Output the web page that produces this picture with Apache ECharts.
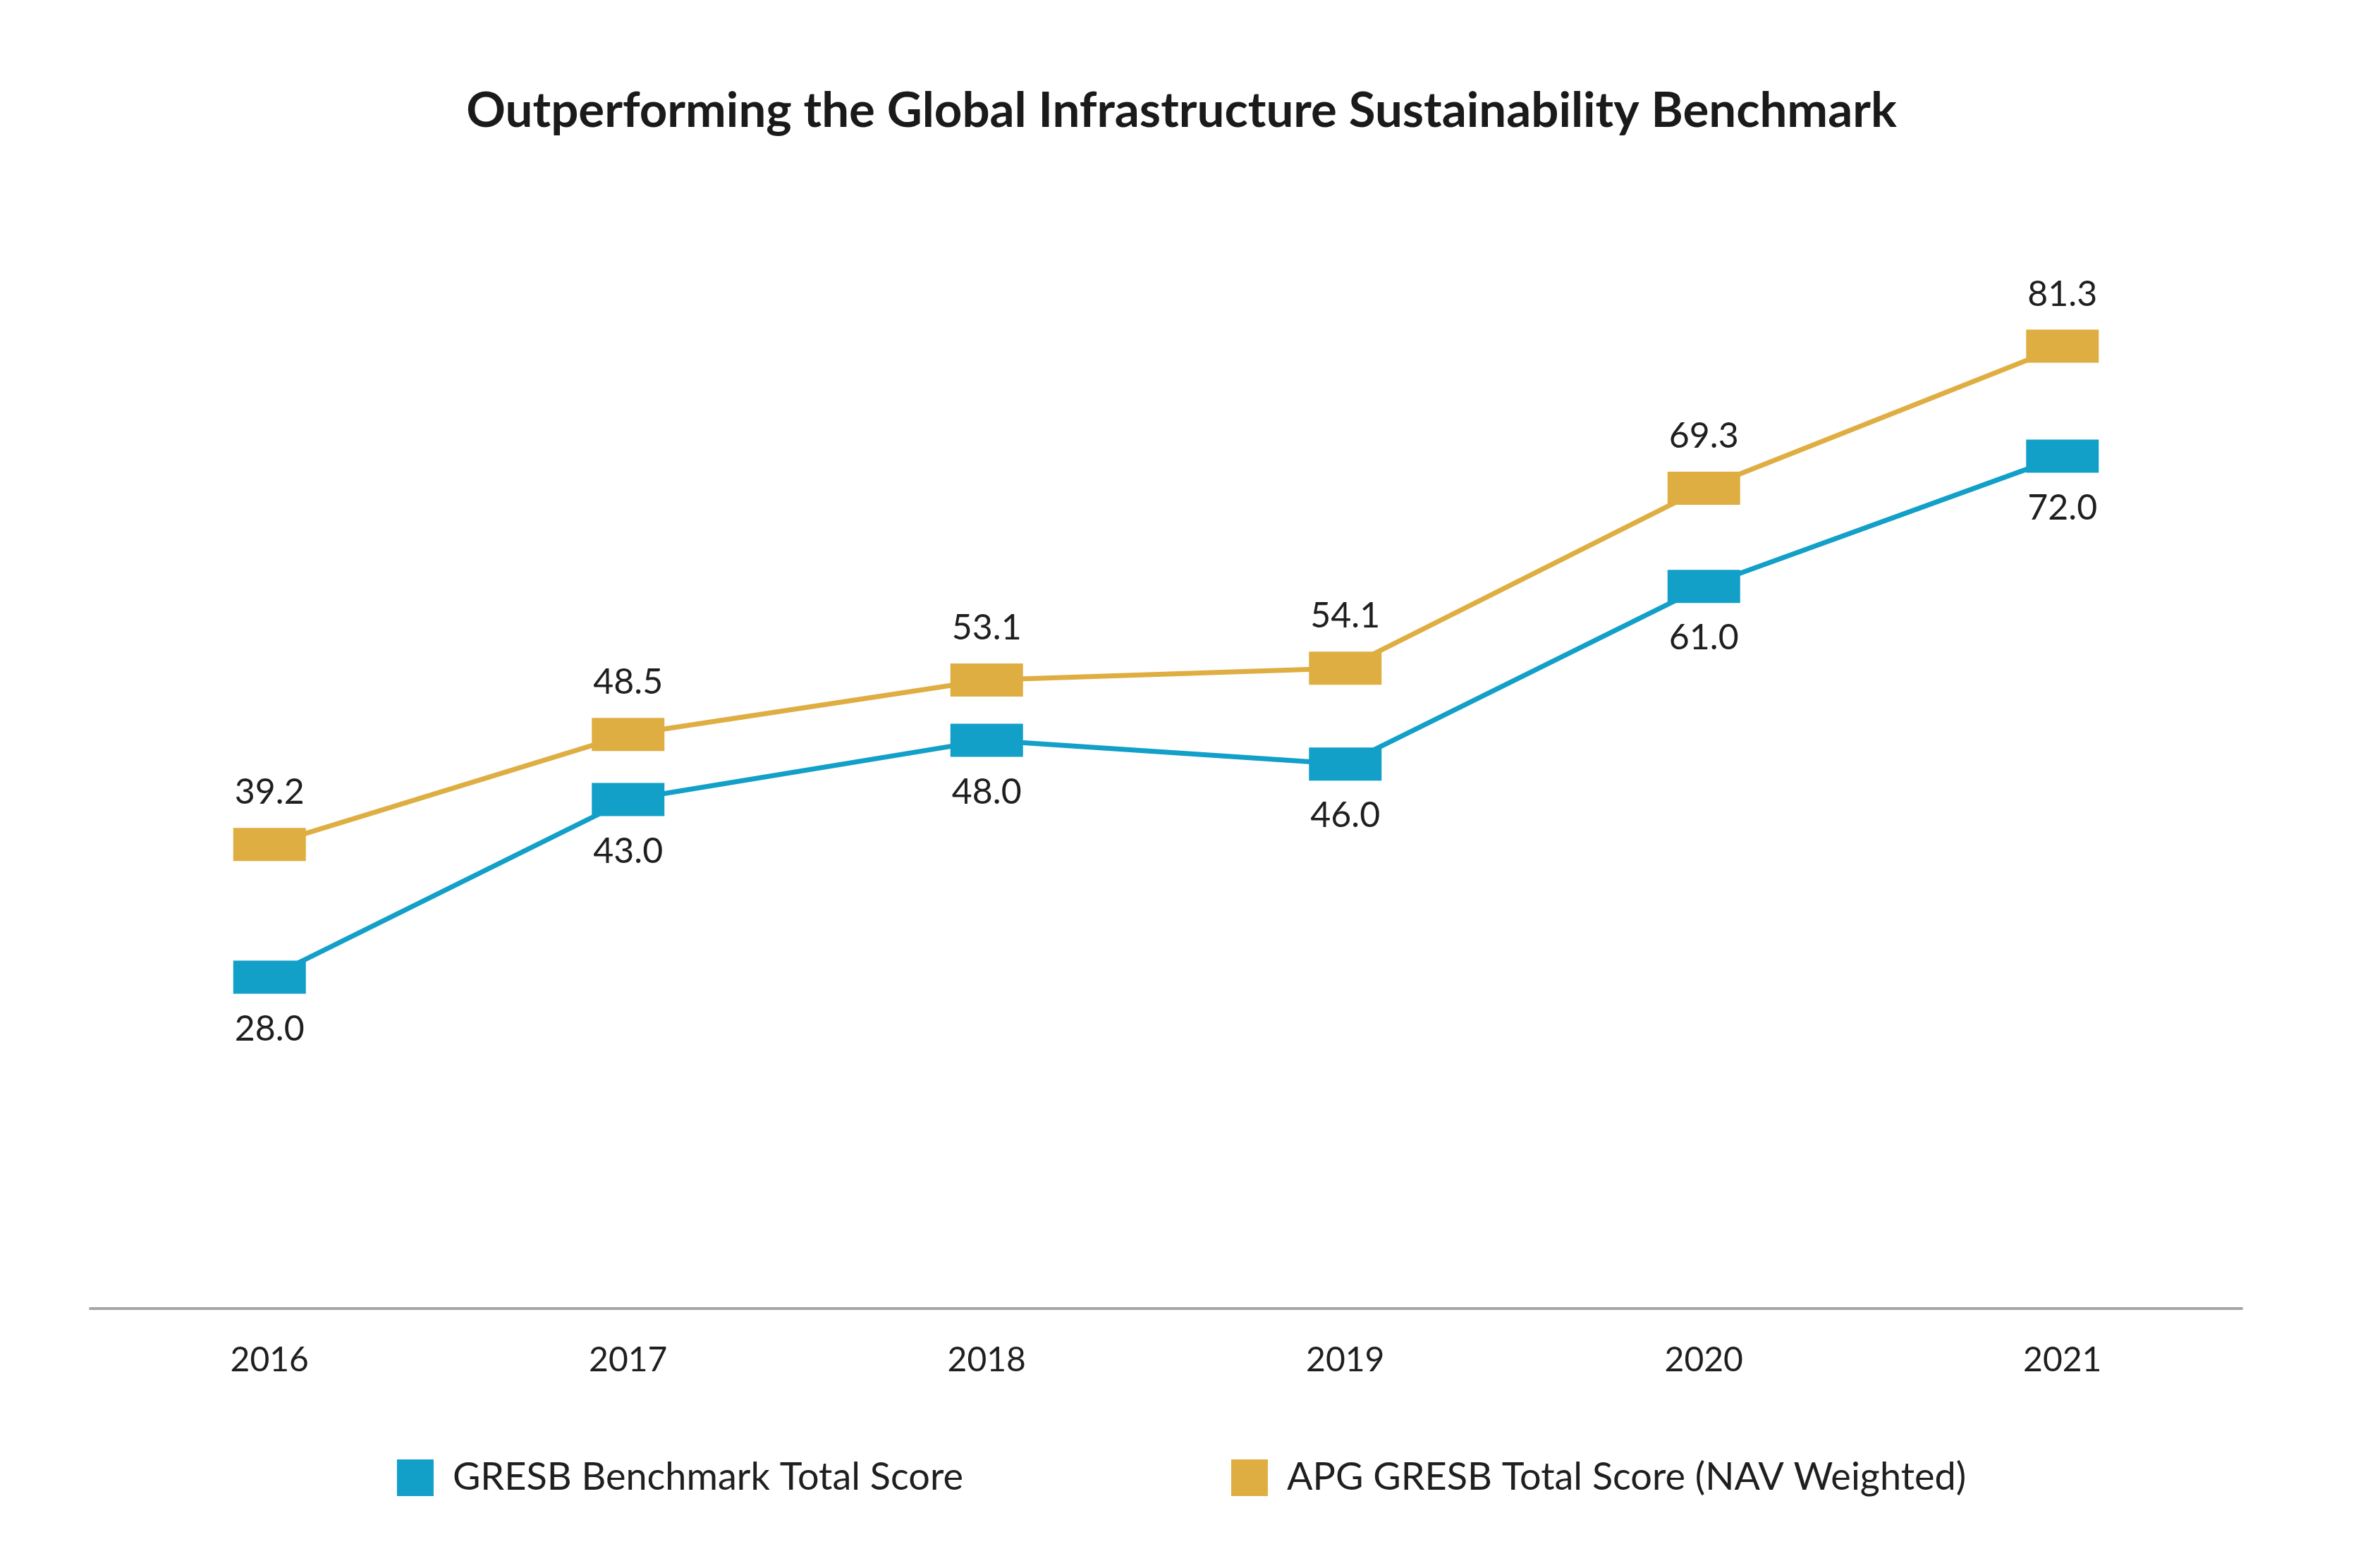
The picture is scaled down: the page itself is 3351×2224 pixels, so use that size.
<!DOCTYPE html>
<html>
<head>
<meta charset="utf-8">
<script src="https://cdn.jsdelivr.net/npm/echarts@6/dist/echarts.min.js"></script>
<style>html,body{margin:0;padding:0;background:#fff}#c{width:3351px;height:2224px}</style>
</head>
<body>
<div id="c"></div>
<script>
const titleText = 'Outperforming the Global Infrastructure Sustainability Benchmark';
const years = ['2016', '2017', '2018', '2019', '2020', '2021'];
const gresbName = 'GRESB Benchmark Total Score';
const gresbValues = [28.0, 43.0, 48.0, 46.0, 61.0, 72.0];
const apgName = 'APG GRESB Total Score (NAV Weighted)';
const apgValues = [39.2, 48.5, 53.1, 54.1, 69.3, 81.3];

const BLUE = '#12A0C8';
const GOLD = '#DFAE42';
const FONT = 'Lato, "Open Sans", sans-serif';

const chart = echarts.init(document.getElementById('c'), null, {renderer: 'canvas'});
function lineSeries(name, data, color, pos) {
  return {
    name: name,
    type: 'line',
    data: data,
    symbol: 'rect',
    symbolSize: [103, 47],
    lineStyle: {color: color, width: 7},
    itemStyle: {color: color},
    label: {
      show: true,
      position: pos,
      distance: 25,
      formatter: p => p.value.toFixed(1),
      fontFamily: FONT,
      fontSize: 50,
      color: '#1f1f1f'
    },
    emphasis: {disabled: true},
    animation: false
  };
}
chart.setOption({
  backgroundColor: '#ffffff',
  animation: false,
  title: {
    text: titleText,
    left: 'center',
    top: 118,
    textStyle: {fontFamily: FONT, fontSize: 69, fontWeight: 'bold', color: '#1a1a1a'}
  },
  legend: {
    bottom: 96,
    left: 'center',
    itemWidth: 52,
    itemHeight: 52,
    itemGap: 380,
    icon: 'rect',
    data: [gresbName, apgName],
    textStyle: {fontFamily: FONT, fontSize: 54, color: '#1f1f1f', padding: [0, 0, 0, 22]}
  },
  grid: {left: 128, right: 172, top: 177, bottom: 368},
  xAxis: {
    type: 'category',
    data: years,
    boundaryGap: true,
    axisLine: {show: true, lineStyle: {color: '#a6a6a6', width: 4, cap: 'round'}},
    axisTick: {show: false},
    axisLabel: {fontFamily: FONT, fontSize: 48, color: '#1f1f1f', margin: 50}
  },
  yAxis: {
    type: 'value',
    min: 0,
    max: 100,
    show: false,
    splitLine: {show: false}
  },
  series: [
    lineSeries(gresbName, gresbValues, BLUE, 'bottom'),
    lineSeries(apgName, apgValues, GOLD, 'top')
  ]
});
</script>
</body>
</html>
